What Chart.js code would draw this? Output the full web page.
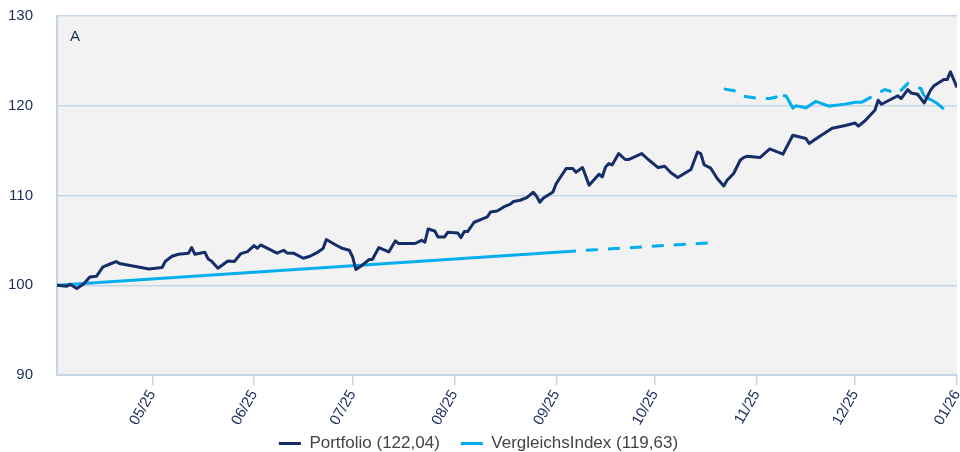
<!DOCTYPE html>
<html>
<head>
<meta charset="utf-8">
<script src="https://cdn.jsdelivr.net/npm/chart.js@4.4.1/dist/chart.umd.min.js"></script>
<style>
html,body{margin:0;padding:0;background:#fff;}
canvas{display:block;}
</style>
</head>
<body>
<canvas id="c" width="960" height="452" style="width:960px;height:452px"></canvas>
<script>
// ---- data (x = days since 2025-04-02) ----
const monthTickDays = [29, 60, 90, 121, 152, 182, 213, 243, 274];
const monthTickLabels = ['05/25','06/25','07/25','08/25','09/25','10/25','11/25','12/25','01/26'];
const yTickValues = [90, 100, 110, 120, 130];

const portfolioDays = [0,3,4,6,8,10,12,14,16,18,19,28,32,33,35,37,40,41,42,45,46,47,49,52,54,56,58,60,61,62,67,69,70,72,75,77,79,81,82,85,87,89,90,91,93,95,96,98,101,103,104,109,111,112,113,115,116,118,119,122,123,124,125,127,129,131,132,134,136,138,139,141,143,145,146,147,148,151,152,153,155,157,158,160,162,165,166,167,168,169,171,173,174,178,180,183,185,187,189,193,195,196,197,199,201,203,204,206,208,209,210,214,217,221,224,228,229,232,236,240,243,244,246,249,250,251,256,257,259,260,262,264,266,267,270,271,272,274];
const portfolioValues = [100.00,99.89,100.11,99.63,100.11,100.92,101.00,102.04,102.34,102.64,102.42,101.82,101.97,102.67,103.23,103.45,103.57,104.20,103.45,103.68,102.93,102.71,101.89,102.71,102.64,103.53,103.75,104.42,104.12,104.49,103.57,103.90,103.60,103.57,103.01,103.23,103.60,104.09,105.09,104.46,104.09,103.90,103.15,101.75,102.26,102.86,102.86,104.20,103.71,104.94,104.65,104.65,105.01,104.79,106.27,106.05,105.38,105.38,105.91,105.83,105.31,105.98,105.98,107.02,107.32,107.61,108.17,108.28,108.72,109.03,109.33,109.47,109.77,110.36,109.92,109.25,109.69,110.40,111.33,111.89,113.00,113.00,112.59,113.11,111.14,112.37,112.07,113.18,113.55,113.40,114.67,114.01,114.01,114.67,114.01,113.11,113.26,112.51,112.00,112.89,114.85,114.67,113.43,113.06,111.89,111.06,111.70,112.45,113.93,114.23,114.37,114.23,115.19,114.60,116.71,116.35,115.79,116.55,117.49,117.80,118.07,117.72,118.33,119.50,120.61,120.17,121.11,120.80,121.80,121.43,121.28,120.31,121.77,122.23,122.92,122.92,123.77,122.04];

const indexDays = [0,158,200,202,203,207,209,214,217,221,222,224,225,228,231,235,240,243,245,248,252,256,259,263,264,266,268,270];
const indexValues = [100.00,103.82,104.76,null,121.88,121.63,121.07,120.81,120.81,121.15,121.07,119.77,119.99,119.77,120.48,119.96,120.18,120.40,120.40,120.99,121.81,121.37,122.47,121.92,121.06,120.69,120.25,119.63];

const seriesNames = ['Portfolio (122,04)', 'VergleichsIndex (119,63)'];
const panelLabel = 'A';

// ---- styles ----
const NAVY = '#172d6a';
const CYAN = '#00aeef';
const GRID = '#c6d5e6';
const TEXT = '#1d2b5c';

Chart.defaults.font.family = '"Liberation Sans", Arial, Helvetica, sans-serif';

// [from, to, dashOffset]
const dashedRanges = [[158, 201, 12], [203, 221, 0], [248, 264, 12]];
function dashRange(x) {
  return dashedRanges.find(r => x >= r[0] && x < r[1]);
}

const X_AXIS_HEIGHT = 58;
const LEGEND_OFFSET = 39;

const helperPlugin = {
  id: 'helper',
  afterLayout(chart) {
    const lg = chart.legend;
    if (lg) {
      const h = lg.height;
      lg.top = chart.chartArea.bottom + LEGEND_OFFSET;
      lg.bottom = lg.top + h;
    }
  },
  beforeDraw(chart) {
    const {ctx, chartArea: a} = chart;
    ctx.save();
    ctx.fillStyle = '#f2f2f2';
    ctx.fillRect(a.left, a.top, a.right - a.left, a.bottom - a.top);
    ctx.restore();
  },
  afterDatasetsDraw(chart) {
    const {ctx, chartArea: a} = chart;
    ctx.save();
    ctx.fillStyle = TEXT;
    ctx.font = '15px "Liberation Sans", Arial, sans-serif';
    ctx.textBaseline = 'middle';
    ctx.fillText(panelLabel, a.left + 13, a.top + 21);
    ctx.restore();
  }
};

new Chart(document.getElementById('c'), {
  type: 'line',
  data: {
    datasets: [
      {
        label: seriesNames[0],
        data: portfolioDays.map((d, i) => ({x: d, y: portfolioValues[i]})),
        borderColor: NAVY,
        backgroundColor: NAVY,
        borderWidth: 3,
        pointRadius: 0,
        tension: 0,
        borderJoinStyle: 'round'
      },
      {
        label: seriesNames[1],
        data: indexDays.map((d, i) => ({x: d, y: indexValues[i]})),
        borderColor: CYAN,
        backgroundColor: CYAN,
        borderWidth: 3,
        pointRadius: 0,
        tension: 0,
        spanGaps: false,
        segment: {
          borderDash: c => dashRange(c.p0.parsed.x) ? [12, 10] : undefined,
          borderDashOffset: c => { const r = dashRange(c.p0.parsed.x); return r ? r[2] : undefined; }
        }
      }
    ]
  },
  options: {
    responsive: false,
    animation: false,
    layout: {padding: {left: 0, right: 3, top: 16, bottom: -29}},
    scales: {
      x: {
        type: 'linear',
        min: 0,
        max: 274,
        afterBuildTicks: s => { s.ticks = monthTickDays.map(v => ({value: v})); },
        afterFit: s => { s.height = X_AXIS_HEIGHT; s.paddingLeft = 0; s.paddingRight = 0; },
        ticks: {
          autoSkip: false,
          minRotation: 60,
          maxRotation: 60,
          padding: 2,
          color: TEXT,
          font: {size: 15},
          callback: (v, i) => monthTickLabels[i]
        },
        grid: {drawOnChartArea: false, drawTicks: true, tickLength: 10, color: GRID, lineWidth: 1.5},
        border: {display: true, color: GRID, width: 2}
      },
      y: {
        min: 90,
        max: 130,
        afterBuildTicks: s => { s.ticks = yTickValues.map(v => ({value: v})); },
        afterFit: s => { s.width = 57; s.paddingTop = 0; s.paddingBottom = 0; },
        ticks: {padding: 24, color: TEXT, font: {size: 15}},
        grid: {color: GRID, lineWidth: 1.5, drawTicks: false},
        border: {display: true, color: GRID, width: 2}
      }
    },
    plugins: {
      tooltip: {enabled: false},
      legend: {
        position: 'bottom',
        labels: {
          boxWidth: 22,
          boxHeight: 3,
          padding: 21,
          color: '#444444',
          font: {size: 17},
          generateLabels: chart => Chart.defaults.plugins.legend.labels.generateLabels(chart).map(l => Object.assign(l, {lineWidth: 0, lineDash: []}))
        }
      }
    }
  },
  plugins: [helperPlugin]
});
</script>
</body>
</html>
